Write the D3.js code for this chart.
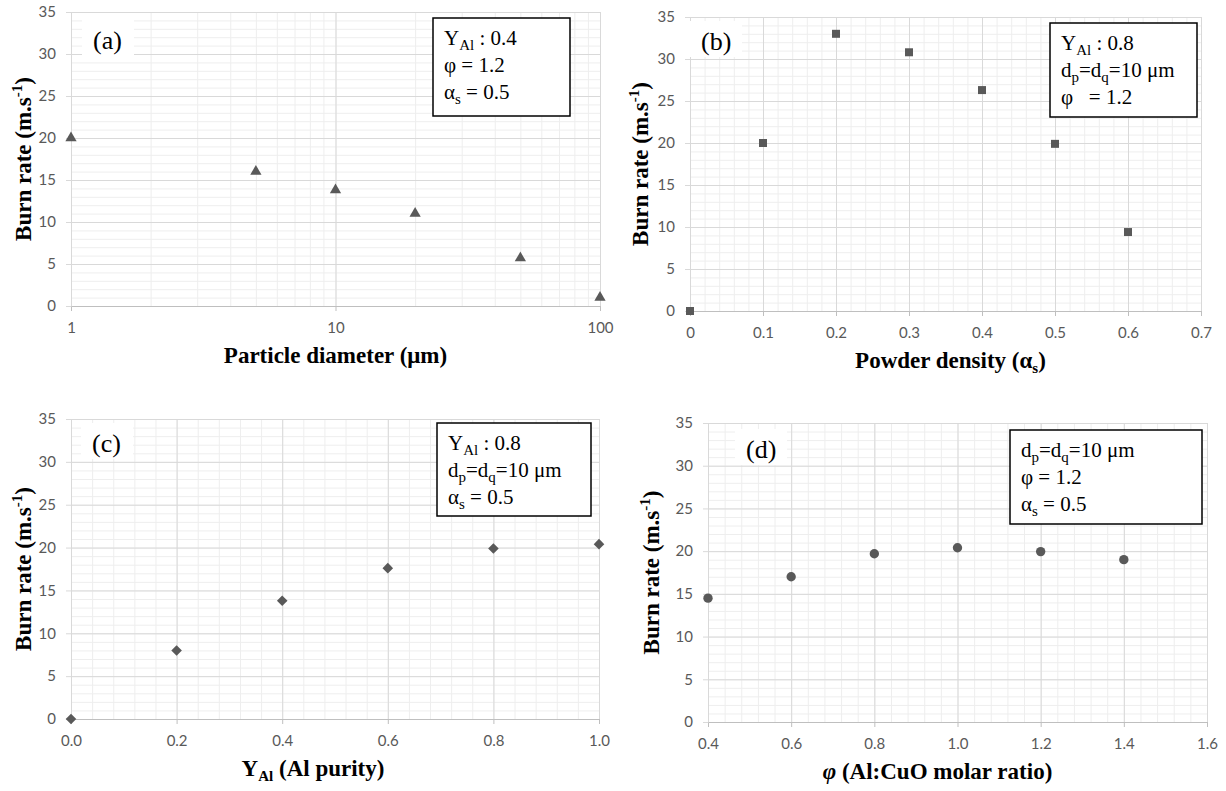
<!DOCTYPE html>
<html>
<head>
<meta charset="utf-8">
<script src="https://cdn.jsdelivr.net/npm/d3@7"></script>
<style>
  body { margin: 0; background: #fff; }
  svg { display: block; }
  .tick text { font-family: Lato, "Open Sans", sans-serif; font-size: 15px; fill: #595959; }
  .axis-title { font-family: "Liberation Serif", "Times New Roman", serif; font-weight: bold; font-size: 23px; fill: #000; }
  .note { font-family: "Liberation Serif", "Times New Roman", serif; font-size: 21px; fill: #000; white-space: pre; }
  .tag { font-family: "Liberation Serif", "Times New Roman", serif; font-size: 26px; fill: #000; }
</style>
</head>
<body>
<svg id="chart" width="1226" height="791"></svg>
<script>
// (a) burn rate vs particle diameter (um), log axis
const diameters = [1, 5, 10, 20, 50, 100];
const rateByDiameter = [20, 16, 13.8, 11, 5.7, 1.0];
// (b) burn rate vs powder density
const densities = [0, 0.1, 0.2, 0.3, 0.4, 0.5, 0.6];
const rateByDensity = [0, 20, 33, 30.8, 26.3, 19.9, 9.4];
// (c) burn rate vs Al purity
const purities = [0, 0.2, 0.4, 0.6, 0.8, 1.0];
const rateByPurity = [0, 8, 13.8, 17.6, 19.9, 20.4];
// (d) burn rate vs Al:CuO molar ratio
const molarRatios = [0.4, 0.6, 0.8, 1.0, 1.2, 1.4];
const rateByRatio = [14.5, 17, 19.7, 20.4, 19.95, 19.0];

// tick labels
const rateTicks = [0, 5, 10, 15, 20, 25, 30, 35];
const diameterTicks = [1, 10, 100];
const densityTicks = [0, 0.1, 0.2, 0.3, 0.4, 0.5, 0.6, 0.7];
const purityTicks = [0, 0.2, 0.4, 0.6, 0.8, 1.0];
const ratioTicks = [0.4, 0.6, 0.8, 1.0, 1.2, 1.4, 1.6];

// legend notes, each line is a list of [text, kind]
const notesA = [
  [["Y"], ["Al", "sub"], [" : 0.4"]],
  [["φ = 1.2"]],
  [["α"], ["s", "sub"], [" = 0.5"]]
];
const notesB = [
  [["Y"], ["Al", "sub"], [" : 0.8"]],
  [["d"], ["p", "sub"], ["=d"], ["q", "sub"], ["=10 μm"]],
  [["φ   = 1.2"]]
];
const notesC = [
  [["Y"], ["Al", "sub"], [" : 0.8"]],
  [["d"], ["p", "sub"], ["=d"], ["q", "sub"], ["=10 μm"]],
  [["α"], ["s", "sub"], [" = 0.5"]]
];
const notesD = [
  [["d"], ["p", "sub"], ["=d"], ["q", "sub"], ["=10 μm"]],
  [["φ = 1.2"]],
  [["α"], ["s", "sub"], [" = 0.5"]]
];

const yTitle = [["Burn rate (m.s"], ["-1", "sup"], [")"]];

const svg = d3.select("#chart");

// write text pieces with sub/superscripts into a text element
function addRich(text, parts, smallSize) {
  let shift = 0;
  parts.forEach(([str, kind]) => {
    const target = kind === "sub" ? 5 : kind === "sup" ? -9 : 0;
    const ts = text.append("tspan").text(str).attr("dy", target - shift);
    shift = target;
    if (kind === "sub" || kind === "sup") ts.style("font-size", smallSize + "px");
    if (kind === "ital") ts.style("font-style", "italic");
  });
}

function drawPanel(p) {
  const g = svg.append("g");
  const x = p.x.range([p.left, p.right]);
  const y = d3.scaleLinear().domain([0, 35]).range([p.bottom, p.top]);
  const h = p.bottom - p.top, w = p.right - p.left;

  // minor grid
  g.append("g")
    .attr("transform", `translate(0,${p.bottom})`)
    .call(d3.axisBottom(x).tickValues(p.xMinor).tickSize(-h).tickFormat(""))
    .call(s => s.select(".domain").remove())
    .selectAll("line").attr("stroke", "#eeeeee");
  g.append("g")
    .attr("transform", `translate(${p.left},0)`)
    .call(d3.axisLeft(y).tickValues(d3.range(0, 36, 1)).tickSize(-w).tickFormat(""))
    .call(s => s.select(".domain").remove())
    .selectAll("line").attr("stroke", "#eeeeee");

  // major grid
  g.append("g")
    .attr("transform", `translate(0,${p.bottom})`)
    .call(d3.axisBottom(x).tickValues(p.xTicks).tickSize(-h).tickFormat(""))
    .call(s => s.select(".domain").remove())
    .selectAll("line").attr("stroke", "#d9d9d9");
  g.append("g")
    .attr("transform", `translate(${p.left},0)`)
    .call(d3.axisLeft(y).tickValues(rateTicks).tickSize(-w).tickFormat(""))
    .call(s => s.select(".domain").remove())
    .selectAll("line").attr("stroke", "#d9d9d9");

  // axes with labels
  const ax = g.append("g")
    .attr("transform", `translate(0,${p.bottom})`)
    .call(d3.axisBottom(x).tickValues(p.xTicks).tickSize(5).tickSizeOuter(0).tickPadding(11).tickFormat(p.fmt));
  ax.select(".domain").attr("stroke", "#bfbfbf");
  ax.selectAll(".tick line").attr("stroke", "#bfbfbf");
  const ay = g.append("g")
    .attr("transform", `translate(${p.left},0)`)
    .call(d3.axisLeft(y).tickValues(rateTicks).tickSize(5).tickSizeOuter(0).tickPadding(10));
  ay.select(".domain").attr("stroke", "#d9d9d9");
  ay.selectAll(".tick line").attr("stroke", "#d9d9d9");

  // panel tag with white backing
  g.append("rect").attr("x", p.tag.x - 11).attr("y", p.tag.y - 29)
    .attr("width", 52).attr("height", 36).attr("fill", "#fff");
  g.append("text").attr("class", "tag").attr("x", p.tag.x).attr("y", p.tag.y).text(p.tag.label);

  // note box
  g.append("rect").attr("x", p.note.x).attr("y", p.note.y)
    .attr("width", p.note.w).attr("height", p.note.h)
    .attr("fill", "#fff").attr("stroke", "#000").attr("stroke-width", 1.5);
  p.note.lines.forEach((line, i) => {
    const t = g.append("text").attr("class", "note")
      .attr("x", p.note.x + 11).attr("y", p.note.y + 27 + i * 27);
    addRich(t, line, 15);
  });

  // markers
  const sym = d3.symbol().type(p.symbol).size(p.size);
  g.append("g").selectAll("path")
    .data(p.xs.map((v, i) => [v, p.ys[i]]))
    .join("path")
    .attr("d", sym)
    .attr("transform", d => `translate(${x(d[0])},${y(d[1])}) rotate(${p.rotate || 0})`)
    .attr("fill", "#595959");

  // axis titles
  const xt = g.append("text").attr("class", "axis-title")
    .attr("x", (p.left + p.right) / 2 + (p.xTitleShift || 0)).attr("y", p.bottom + 57)
    .attr("text-anchor", "middle");
  addRich(xt, p.xTitle, 15);
  const yt = g.append("text").attr("class", "axis-title")
    .attr("transform", `translate(${p.yTitleX},${(p.top + p.bottom) / 2}) rotate(-90)`)
    .attr("text-anchor", "middle");
  addRich(yt, yTitle, 15);
}

drawPanel({
  left: 71, right: 600, top: 12, bottom: 306,
  x: d3.scaleLog().domain([1, 100]),
  xTicks: diameterTicks,
  xMinor: d3.scaleLog().domain([1, 100]).ticks(),
  fmt: d3.format("d"),
  xs: diameters, ys: rateByDiameter,
  symbol: d3.symbolTriangle, size: 55,
  tag: { x: 93, y: 49, label: "(a)" },
  note: { x: 433, y: 18, w: 137, h: 98, lines: notesA },
  xTitle: [["Particle diameter (μm)"]],
  yTitleX: 31
});

drawPanel({
  left: 690, right: 1201, top: 17, bottom: 311,
  x: d3.scaleLinear().domain([0, 0.7]),
  xTicks: densityTicks,
  xMinor: d3.range(0, 0.7001, 0.02),
  fmt: d3.format(""),
  xs: densities, ys: rateByDensity,
  symbol: d3.symbolSquare, size: 64,
  tag: { x: 701, y: 50, label: "(b)" },
  note: { x: 1050, y: 23, w: 147, h: 94, lines: notesB },
  xTitle: [["Powder density (α"], ["s", "sub"], [")"]],
  xTitleShift: 5,
  yTitleX: 648
});

drawPanel({
  left: 71, right: 599, top: 419, bottom: 719,
  x: d3.scaleLinear().domain([0, 1]),
  xTicks: purityTicks,
  xMinor: d3.range(0, 1.0001, 0.04),
  fmt: d3.format(".1f"),
  xs: purities, ys: rateByPurity,
  symbol: d3.symbolSquare, size: 56, rotate: 45,
  tag: { x: 92, y: 452, label: "(c)" },
  note: { x: 437, y: 423, w: 154, h: 93, lines: notesC },
  xTitle: [["Y"], ["Al", "sub"], [" (Al purity)"]],
  xTitleShift: -22,
  yTitleX: 31
});

drawPanel({
  left: 708, right: 1207, top: 423, bottom: 722,
  x: d3.scaleLinear().domain([0.4, 1.6]),
  xTicks: ratioTicks,
  xMinor: d3.range(0.4, 1.6001, 0.04),
  fmt: d3.format(".1f"),
  xs: molarRatios, ys: rateByRatio,
  symbol: d3.symbolCircle, size: 69,
  tag: { x: 746, y: 458, label: "(d)" },
  note: { x: 1010, y: 430, w: 192, h: 94, lines: notesD },
  xTitle: [["φ", "ital"], [" (Al:CuO molar ratio)"]],
  xTitleShift: -20,
  yTitleX: 659
});
</script>
</body>
</html>
